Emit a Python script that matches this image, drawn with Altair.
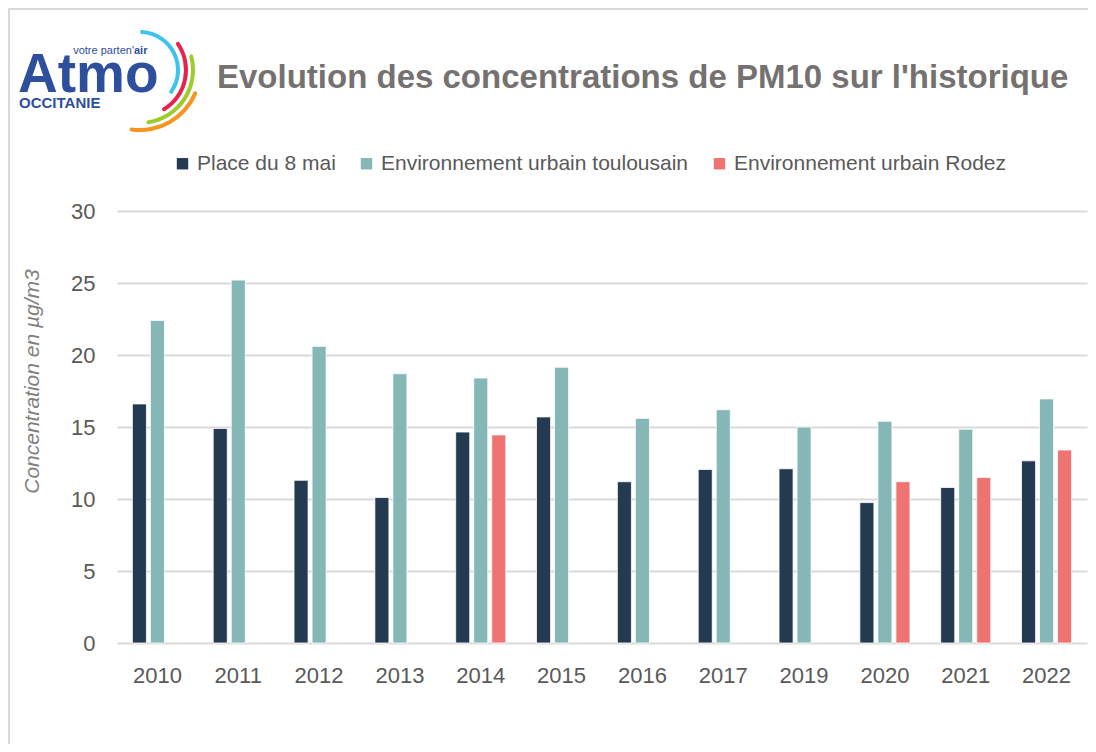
import altair as alt
import pandas as pd
import math

years = ["2010", "2011", "2012", "2013", "2014", "2015", "2016", "2017", "2019", "2020", "2021", "2022"]
series = ["Place du 8 mai", "Environnement urbain toulousain", "Environnement urbain Rodez"]
place_8_mai = [16.6, 14.9, 11.3, 10.1, 14.65, 15.7, 11.2, 12.05, 12.1, 9.75, 10.8, 12.65]
toulousain = [22.4, 25.2, 20.6, 18.7, 18.4, 19.15, 15.6, 16.2, 15.0, 15.4, 14.85, 16.95]
rodez = [None, None, None, None, 14.45, None, None, None, None, 11.2, 11.5, 13.4]
colors = ["#243a51", "#84b7b6", "#ef7370"]

rows = []
for s, vals in zip(series, [place_8_mai, toulousain, rodez]):
    for y, v in zip(years, vals):
        if v is not None:
            rows.append({"year": y, "serie": s, "value": v})
df = pd.DataFrame(rows)

FONT = "Liberation Sans"

bars = alt.Chart(df).mark_bar(stroke="white", strokeWidth=0.8).encode(
    x=alt.X("year:N", sort=years, title=None,
            scale=alt.Scale(paddingInner=0.38, paddingOuter=0.19),
            axis=alt.Axis(labelAngle=0, labelFontSize=22, labelColor="#595959",
                          labelFont=FONT, labelPadding=22, ticks=False, domain=False)),
    xOffset=alt.XOffset("serie:N", sort=series,
                        scale=alt.Scale(domain=series, paddingInner=0.22, paddingOuter=0)),
    y=alt.Y("value:Q", title="Concentration en µg/m3",
            scale=alt.Scale(domain=[0, 30]),
            axis=alt.Axis(values=[0, 5, 10, 15, 20, 25, 30], labelFontSize=22,
                          labelColor="#595959", labelFont=FONT, labelPadding=22,
                          ticks=False, domain=False, gridColor="#d9d9d9", gridWidth=2,
                          titleFont=FONT, titleFontSize=21, titleFontStyle="italic",
                          titleFontWeight="normal", titleColor="#7f7f7f",
                          titleX=-85, titleY=170, titleBaseline="middle", titleAlign="center")),
    color=alt.Color("serie:N", sort=series,
                    scale=alt.Scale(domain=series, range=colors),
                    legend=alt.Legend(title=None, orient="none", direction="horizontal",
                                      legendX=55, legendY=-58, symbolType="square",
                                      symbolSize=130, symbolStrokeWidth=0,
                                      labelFont=FONT, labelFontSize=21, labelColor="#595959",
                                      columnPadding=20, labelOffset=4, labelLimit=400)),
)

title = alt.Chart(pd.DataFrame({"t": ["Evolution des concentrations de PM10 sur l'historique"]})).mark_text(
    font=FONT, fontSize=33, fontWeight="bold", color="#767171", align="left", baseline="middle"
).encode(x=alt.value(100), y=alt.value(-133), text="t:N")

BLUE = "#2d4f9e"
atmo = alt.Chart(pd.DataFrame({"t": ["Atmo"]})).mark_text(
    font=FONT, fontSize=55, fontWeight="bold", color=BLUE, align="left", baseline="alphabetic"
).encode(x=alt.value(-99), y=alt.value(-119), text="t:N")
votre = alt.Chart(pd.DataFrame({"t": ["votre parten'"]})).mark_text(
    font=FONT, fontSize=11, color=BLUE, align="right", baseline="middle"
).encode(x=alt.value(17), y=alt.value(-160), text="t:N")
air = alt.Chart(pd.DataFrame({"t": ["air"]})).mark_text(
    font=FONT, fontSize=11, fontWeight="bold", color=BLUE, align="left", baseline="middle"
).encode(x=alt.value(17), y=alt.value(-160), text="t:N")
occ = alt.Chart(pd.DataFrame({"t": ["OCCITANIE"]})).mark_text(
    font=FONT, fontSize=15, fontWeight="bold", color=BLUE, align="left", baseline="middle"
).encode(x=alt.value(-98), y=alt.value(-108), text="t:N")

def arc(r, t1, t2, col):
    return alt.Chart(pd.DataFrame({"a": [1]})).mark_arc(
        radius=r + 2, radius2=r - 2, theta=math.radians(t1), theta2=math.radians(t2),
        color=col, cornerRadius=2
    ).encode(x=alt.value(23), y=alt.value(-141))

arcs = [arc(38, 0, 128, "#3cc3ee"), arc(46, 53, 151, "#e8214d"),
        arc(53, 73, 173, "#9ccc2a"), arc(60, 111, 190, "#f7941d")]

frame_top = alt.Chart(pd.DataFrame({"a": [1]})).mark_rule(color="#d9d9d9", strokeWidth=2).encode(
    x=alt.value(-108), x2=alt.value(975), y=alt.value(-202))
frame_left = alt.Chart(pd.DataFrame({"a": [1]})).mark_rule(color="#d9d9d9", strokeWidth=2).encode(
    x=alt.value(-108), y=alt.value(-203), y2=alt.value(545))

chart = alt.layer(frame_top, frame_left, bars, title, atmo, votre, air, occ, *arcs).properties(
    width=970, height=432,
    background="white",
    autosize=alt.AutoSizeParams(type="none"),
    padding={"left": 109, "top": 203, "right": 1, "bottom": 101},
).configure_view(strokeWidth=0, stroke="transparent")

chart.save("out.html", embed_options={"renderer": "svg", "actions": False})
